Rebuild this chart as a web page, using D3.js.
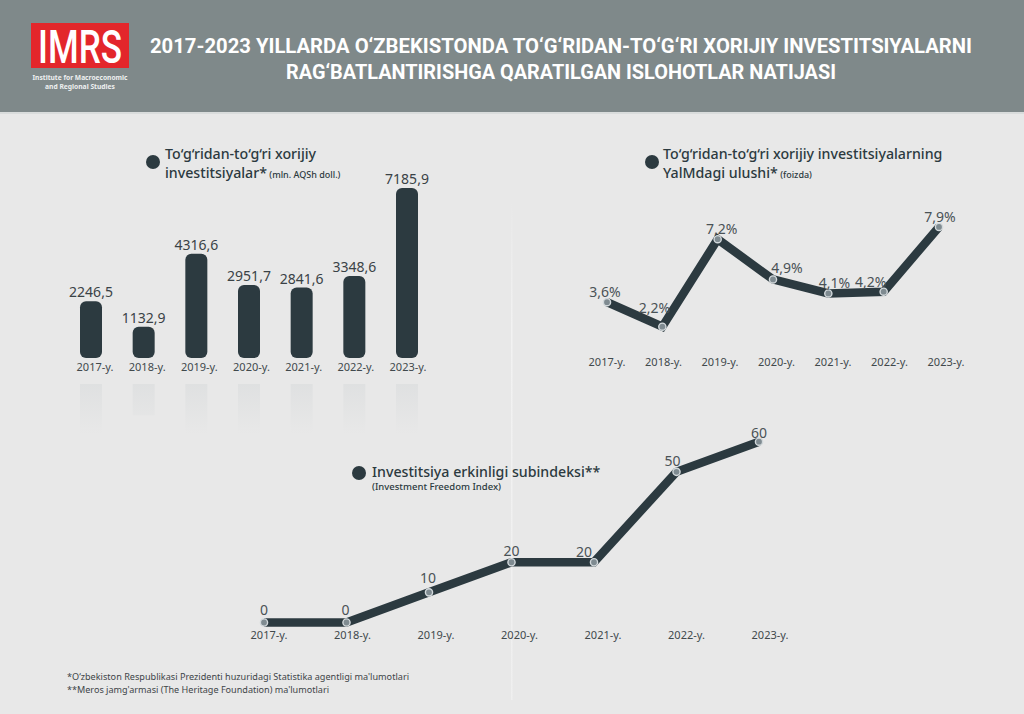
<!DOCTYPE html>
<html>
<head>
<meta charset="utf-8">
<script src="https://cdn.jsdelivr.net/npm/d3@7"></script>
<style>
  html, body { margin: 0; padding: 0; background: #e8e8e8; }
  svg { display: block; font-family: "Noto Sans", "Open Sans", sans-serif; }
</style>
</head>
<body>
<svg id="chart" width="1024" height="714"></svg>
<script>
// ---------- DATA ----------
const years = ["2017", "2018", "2019", "2020", "2021", "2022", "2023"];
const yearLabels = ["2017-y.", "2018-y.", "2019-y.", "2020-y.", "2021-y.", "2022-y.", "2023-y."];
const fdiValues = [2246.5, 1132.9, 4316.6, 2951.7, 2841.6, 3348.6, 7185.9];      // mln. USD
const fdiGdpShare = [3.6, 2.2, 7.2, 4.9, 4.1, 4.2, 7.9];                        // %
const freedomIndex = [0, 0, 10, 20, 20, 50, 60];                                // index
const headerLines = [
  "2017-2023 YILLARDA O‘ZBEKISTONDA TO‘G‘RIDAN-TO‘G‘RI XORIJIY INVESTITSIYALARNI",
  "RAG‘BATLANTIRISHGA QARATILGAN ISLOHOTLAR NATIJASI"
];
const footnotes = [
  "*O‘zbekiston Respublikasi Prezidenti huzuridagi Statistika agentligi ma'lumotlari",
  "**Meros jamg'armasi (The Heritage Foundation) ma'lumotlari"
];

// ---------- LAYOUT / STYLE ----------
const DARK = "#2c3a40";
const fmt = v => String(v).replace(".", ",");
const shareNudge = [[-2, -5], [-8, -14], [4, -5], [14, -6], [6, -5], [-13, -5], [1, -5]];
const indexNudge = [[0, -8], [-1, -8], [-1, -9], [0, -6], [-10, -5], [-4, -6], [0, -4]];

const svg = d3.select("#chart");
const defs = svg.append("defs");

// background
svg.append("rect").attr("width", 1024).attr("height", 714).attr("fill", "#e8e8e8");

// header
svg.append("rect").attr("width", 1024).attr("height", 112).attr("fill", "#7f898a");
svg.append("rect").attr("y", 112).attr("width", 1024).attr("height", 2).attr("fill", "#d9dcdc");

// logo
svg.append("rect").attr("x", 31).attr("y", 23).attr("width", 98).attr("height", 45).attr("fill", "#e3262b");
svg.append("text").attr("x", 80).attr("y", 63).attr("text-anchor", "middle")
  .attr("font-family", "Roboto, 'Liberation Sans', sans-serif").attr("font-weight", 500)
  .attr("font-size", 47).attr("fill", "#fff")
  .attr("textLength", 84).attr("lengthAdjust", "spacingAndGlyphs").text("IMRS");
svg.append("text").attr("x", 80).attr("y", 80).attr("text-anchor", "middle")
  .attr("font-size", 7.5).attr("font-weight", 700).attr("fill", "#eef0f0")
  .attr("textLength", 95).attr("lengthAdjust", "spacingAndGlyphs").text("Institute for Macroeconomic");
svg.append("text").attr("x", 80).attr("y", 89).attr("text-anchor", "middle")
  .attr("font-size", 7.5).attr("font-weight", 700).attr("fill", "#eef0f0")
  .attr("textLength", 70).attr("lengthAdjust", "spacingAndGlyphs").text("and Regional Studies");

// header title
const headerLens = [822, 550];
headerLines.forEach((t, i) => {
  svg.append("text").attr("x", 561).attr("y", 53 + i * 26).attr("text-anchor", "middle")
    .attr("font-family", "Roboto, 'Noto Sans', sans-serif").attr("font-weight", 700)
    .attr("font-size", 21).attr("fill", "#ffffff")
    .attr("textLength", headerLens[i]).attr("lengthAdjust", "spacingAndGlyphs").text(t);
});

// faint vertical divider
const divGrad = defs.append("linearGradient").attr("id", "divGrad")
  .attr("gradientUnits", "userSpaceOnUse").attr("x1", 0).attr("x2", 0).attr("y1", 200).attr("y2", 700);
divGrad.append("stop").attr("offset", 0).attr("stop-color", "#f6f6f6").attr("stop-opacity", 0);
divGrad.append("stop").attr("offset", 0.25).attr("stop-color", "#f6f6f6").attr("stop-opacity", 0.7);
divGrad.append("stop").attr("offset", 1).attr("stop-color", "#f6f6f6").attr("stop-opacity", 0.5);
svg.append("rect").attr("x", 511).attr("y", 200).attr("width", 1.5).attr("height", 500)
  .attr("fill", "url(#divGrad)");

// helper for section titles
function sectionTitle(cx, cy, tx, line1, line2, small, smallOnSecond) {
  svg.append("circle").attr("cx", cx).attr("cy", cy).attr("r", 7).attr("fill", DARK);
  svg.append("text").attr("x", tx).attr("y", smallOnSecond ? cy - 3.5 : cy + 4).attr("font-size", 14.2).attr("font-weight", 500)
    .attr("fill", DARK).text(line1);
  if (smallOnSecond) {
    const t = svg.append("text").attr("x", tx).attr("y", cy + 15.5);
    t.append("tspan").attr("font-size", 14.2).attr("font-weight", 500).attr("fill", DARK).text(line2);
    t.append("tspan").attr("font-size", 9).attr("font-weight", 500).attr("fill", DARK).text("  " + small);
  } else {
    svg.append("text").attr("x", tx).attr("y", cy + 17).attr("font-size", 9.5).attr("font-weight", 500)
      .attr("fill", DARK).text(small);
  }
}

// ---------- BAR CHART ----------
const xBar = d3.scalePoint().domain(years).range([91, 407]);
const yBar = d3.scaleLinear().domain([0, 7185.9]).range([352.7, 188]);
const barW = 22, barBottom = 358, reflTop = 384;

// reflection gradient
const grad = defs.append("linearGradient").attr("id", "reflGrad")
  .attr("gradientUnits", "userSpaceOnUse").attr("x1", 0).attr("x2", 0).attr("y1", reflTop).attr("y2", reflTop + 50);
grad.append("stop").attr("offset", 0).attr("stop-color", "#bfc5c8").attr("stop-opacity", 0.22);
grad.append("stop").attr("offset", 1).attr("stop-color", "#bfc5c8").attr("stop-opacity", 0);

svg.append("g").selectAll("rect").data(fdiValues).join("rect")
  .attr("x", (d, i) => xBar(years[i]) - barW / 2)
  .attr("y", reflTop)
  .attr("width", barW)
  .attr("height", d => Math.min(barBottom - yBar(d), 50))
  .attr("fill", "url(#reflGrad)");

svg.append("g").selectAll("rect").data(fdiValues).join("rect")
  .attr("x", (d, i) => xBar(years[i]) - barW / 2)
  .attr("y", d => yBar(d))
  .attr("width", barW)
  .attr("height", d => barBottom - yBar(d))
  .attr("rx", 6).attr("ry", 6)
  .attr("fill", DARK);

svg.append("g").selectAll("text").data(fdiValues).join("text")
  .attr("x", (d, i) => xBar(years[i]))
  .attr("y", d => yBar(d) - 4)
  .attr("text-anchor", "middle").attr("font-size", 14).attr("fill", "#3a4246")
  .text(d => fmt(d));

const xBarLab = d3.scalePoint().domain(years).range([95, 408]);
svg.append("g").selectAll("text").data(yearLabels).join("text")
  .attr("x", (d, i) => xBarLab(years[i]))
  .attr("y", 371)
  .attr("text-anchor", "middle").attr("font-size", 11).attr("fill", "#41494c")
  .text(d => d);

sectionTitle(153, 162, 165, "To‘g‘ridan-to‘g‘ri xorijiy", "investitsiyalar*", "(mln. AQSh doll.)", true);

// ---------- LINE CHART: share of GDP ----------
const xShare = d3.scalePoint().domain(years).range([607, 939]);
const yShare = d3.scaleLinear().domain([0, 8]).range([365.2, 225.2]);
const lineShare = d3.line().x((d, i) => xShare(years[i])).y(d => yShare(d));

svg.append("path").datum(fdiGdpShare).attr("d", lineShare)
  .attr("fill", "none").attr("stroke", DARK).attr("stroke-width", 8.5)
  .attr("stroke-linejoin", "miter");
svg.append("g").selectAll("circle").data(fdiGdpShare).join("circle")
  .attr("cx", (d, i) => xShare(years[i])).attr("cy", d => yShare(d)).attr("r", 3.6)
  .attr("fill", "#7f8b91").attr("stroke", "#d3d9dc").attr("stroke-width", 1.4);
svg.append("g").selectAll("text").data(fdiGdpShare).join("text")
  .attr("x", (d, i) => xShare(years[i]) + shareNudge[i][0])
  .attr("y", (d, i) => yShare(d) + shareNudge[i][1])
  .attr("text-anchor", "middle").attr("font-size", 14).attr("fill", "#4a5256")
  .text(d => fmt(d) + "%");

const xShareLab = d3.scalePoint().domain(years).range([607, 946]);
svg.append("g").selectAll("text").data(yearLabels).join("text")
  .attr("x", (d, i) => xShareLab(years[i])).attr("y", 366)
  .attr("text-anchor", "middle").attr("font-size", 11).attr("fill", "#41494c")
  .text(d => d);

sectionTitle(652, 162, 663, "To‘g‘ridan-to‘g‘ri xorijiy investitsiyalarning", "YalMdagi ulushi*", "(foizda)", true);

// ---------- LINE CHART: investment freedom index ----------
const xIdx = d3.scalePoint().domain(years).range([264, 759]);
const yIdx = d3.scaleLinear().domain([0, 60]).range([622.5, 441.7]);
const lineIdx = d3.line().x((d, i) => xIdx(years[i])).y(d => yIdx(d));

svg.append("path").datum(freedomIndex).attr("d", lineIdx)
  .attr("fill", "none").attr("stroke", DARK).attr("stroke-width", 8.5)
  .attr("stroke-linejoin", "miter");
svg.append("g").selectAll("circle").data(freedomIndex).join("circle")
  .attr("cx", (d, i) => xIdx(years[i])).attr("cy", d => yIdx(d)).attr("r", 3.6)
  .attr("fill", "#7f8b91").attr("stroke", "#d3d9dc").attr("stroke-width", 1.4);
svg.append("g").selectAll("text").data(freedomIndex).join("text")
  .attr("x", (d, i) => xIdx(years[i]) + indexNudge[i][0])
  .attr("y", (d, i) => yIdx(d) + indexNudge[i][1])
  .attr("text-anchor", "middle").attr("font-size", 14).attr("fill", "#4a5256")
  .text(d => d);

const xIdxLab = d3.scalePoint().domain(years).range([269, 770]);
svg.append("g").selectAll("text").data(yearLabels).join("text")
  .attr("x", (d, i) => xIdxLab(years[i])).attr("y", 639)
  .attr("text-anchor", "middle").attr("font-size", 11).attr("fill", "#41494c")
  .text(d => d);

sectionTitle(359, 473, 372, "Investitsiya erkinligi subindeksi**", null, "(Investment Freedom Index)", false);

// ---------- FOOTNOTES ----------
const footLens = [342, 262];
footnotes.forEach((t, i) => {
  svg.append("text").attr("x", 67).attr("y", 680 + i * 13)
    .attr("font-size", 9).attr("fill", "#3e4548")
    .attr("textLength", footLens[i]).attr("lengthAdjust", "spacingAndGlyphs").text(t);
});
</script>
</body>
</html>
